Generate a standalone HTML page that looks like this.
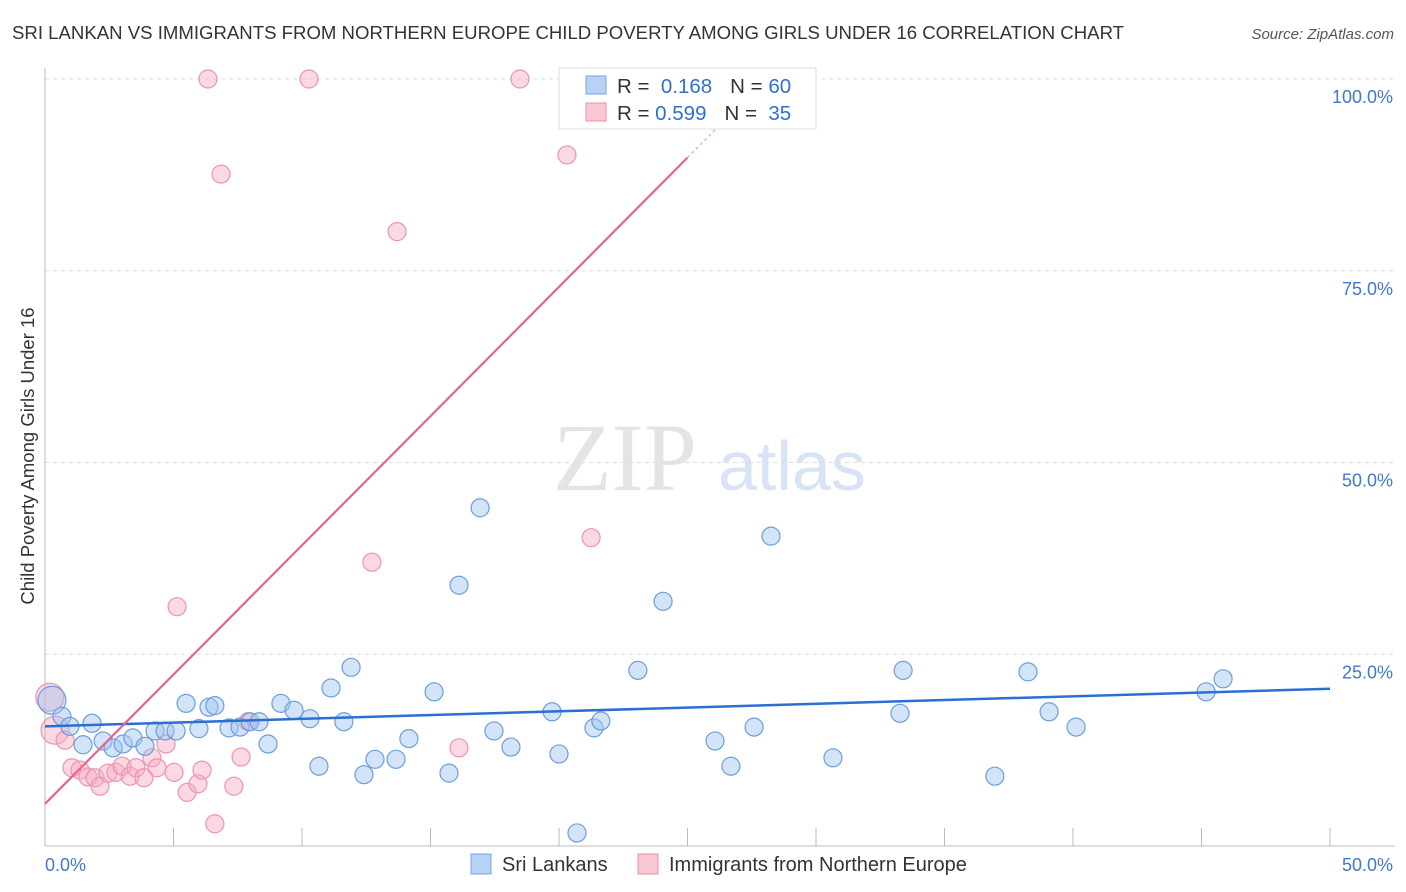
<!DOCTYPE html>
<html><head><meta charset="utf-8"><style>
body{margin:0;background:#fff;font-family:"Liberation Sans",sans-serif;}
#c{position:relative;width:1406px;height:892px;overflow:hidden;}
</style></head><body>
<div id="c">
<svg id="s" width="1406" height="892">
<text x="12" y="39" font-size="18.6" fill="#333">SRI LANKAN VS IMMIGRANTS FROM NORTHERN EUROPE CHILD POVERTY AMONG GIRLS UNDER 16 CORRELATION CHART</text>
<text x="1394" y="39" font-size="15" fill="#555" font-style="italic" text-anchor="end">Source: ZipAtlas.com</text>
<text x="34" y="456" font-size="18.5" fill="#333" text-anchor="middle" transform="rotate(-90 34 456)">Child Poverty Among Girls Under 16</text>
<g>
<text x="553" y="490" font-size="96" font-family="Liberation Serif,serif" fill="#e4e4e4">ZIP</text>
<text x="718" y="490" font-size="70" fill="#d6e4f5">atlas</text>
</g>
<g id="grid"></g><g id="pts"></g><g id="lines"></g>
<g>
<rect x="559" y="68" width="257" height="61" fill="#fff" stroke="#ddd"/>
<rect x="586" y="76" width="20" height="18" fill="#b7d2f5" stroke="#7aa6dd"/>
<rect x="586" y="103" width="20" height="18" fill="#f9c6d3" stroke="#eb90aa"/>
<text x="617" y="93" font-size="20.5" fill="#333">R = <tspan fill="#2f6fcf">&#160;0.168</tspan><tspan dx="18">N = </tspan><tspan fill="#2f6fcf">60</tspan></text>
<text x="617" y="120" font-size="20.5" fill="#333">R = <tspan fill="#2f6fcf">0.599</tspan><tspan dx="18">N = </tspan><tspan fill="#2f6fcf">&#160;35</tspan></text>
</g>
<g>
<rect x="471" y="854" width="20" height="20" fill="#b7d2f5" stroke="#7aa6dd"/>
<text x="502" y="871" font-size="20" fill="#333">Sri Lankans</text>
<rect x="638" y="854" width="20" height="20" fill="#f9c6d3" stroke="#eb90aa"/>
<text x="669" y="871" font-size="20" fill="#333">Immigrants from Northern Europe</text>
</g>
</svg>
</div>
<script>
const xTicks=[0,5,10,15,20,25,30,35,40,45,50];
const yTicks=[25,50,75,100];
const yTickLabels=["25.0%","50.0%","75.0%","100.0%"];
const blueX=[0.27,0.66,0.97,1.83,1.48,2.26,2.65,3.04,3.42,3.89,4.28,4.67,5.10,5.49,5.99,6.38,6.61,7.16,7.59,7.98,8.33,8.68,9.18,9.69,10.31,10.66,11.13,11.63,11.91,12.41,12.84,13.66,14.16,15.14,15.72,16.11,16.93,17.47,18.13,19.73,20.0,20.7,21.36,21.63,23.07,24.05,26.07,26.69,27.59,28.25,30.66,33.27,33.39,36.96,38.25,39.07,40.12,45.18,45.84];
const blueY=[19.0,16.9,15.6,16.0,13.2,13.7,12.8,13.3,14.1,13.0,15.0,15.0,15.0,18.6,15.3,18.1,18.3,15.4,15.5,16.2,16.2,13.3,18.6,17.7,16.6,10.4,20.6,16.2,23.3,9.3,11.3,11.3,14.0,20.1,9.5,34.0,44.1,15.0,12.9,17.5,12.0,1.7,15.4,16.3,22.9,31.9,13.7,10.4,15.5,40.4,11.5,17.3,22.9,9.1,22.7,17.5,15.5,20.1,21.8];
const pinkX=[0.19,0.39,0.78,1.05,1.36,1.67,1.95,2.14,2.45,2.76,3.0,3.31,3.54,3.85,4.16,4.36,4.71,5.02,5.14,5.53,5.95,6.11,6.34,6.61,6.85,7.35,7.63,7.90,10.27,12.72,13.70,16.11,18.48,20.31,21.25];
const pinkY=[19.4,15.1,13.8,10.2,9.9,9.0,8.9,7.8,9.5,9.6,10.4,9.1,10.2,8.9,11.5,10.2,13.3,9.6,31.2,7.0,8.1,9.9,100,2.9,87.6,7.8,11.6,16.2,100,37.0,80.1,12.8,100,90.1,40.2];
const blueTrend=[15.6,20.5];
const pinkTrend=[5.5,3.37];
const NS='http://www.w3.org/2000/svg';
const X=v=>45+v*25.7, Y=v=>846-v*7.67;
function mk(t,a,p){const e=document.createElementNS(NS,t);for(const k in a)e.setAttribute(k,a[k]);p.appendChild(e);return e;}
const g=document.getElementById('grid');
yTicks.forEach((t,i)=>{const l=mk('line',{x1:45,x2:1395,y1:Y(t),y2:Y(t),stroke:'#ddd','stroke-dasharray':'4,4'},g);


const tx=mk('text',{x:1393,y:Y(t)+24,'font-size':18,fill:'#3f78d0','text-anchor':'end'},g);tx.textContent=yTickLabels[i];

});
let ax=mk('line',{x1:45,x2:45,y1:68,y2:846,stroke:'#bbb'},g);


ax=mk('line',{x1:45,x2:1395,y1:846,y2:846,stroke:'#bbb'},g);


xTicks.forEach(t=>{const l=mk('line',{x1:X(t),x2:X(t),y1:828,y2:846,stroke:'#bbb'},g);

});
[[0,'0.0%','start',45],[50,'50.0%','end',1393]].forEach(a=>{const tx=mk('text',{x:a[3],y:871,'font-size':18,fill:'#3f78d0','text-anchor':a[2]},g);tx.textContent=a[1];

});
const P=document.getElementById('pts');
pinkX.forEach((x,i)=>{const c=mk('circle',{cx:X(x),cy:Y(pinkY[i]),r:i<2?14:9,fill:'rgba(246,170,192,0.45)',stroke:'#ec93ad','stroke-width':1.2},P);

});
blueX.forEach((x,i)=>{const c=mk('circle',{cx:X(x),cy:Y(blueY[i]),r:i<1?14:9,fill:'rgba(160,195,240,0.45)',stroke:'#6a9edc','stroke-width':1.2},P);

});
const L=document.getElementById('lines');
let tl=mk('line',{x1:X(0),y1:Y(blueTrend[0]),x2:X(50),y2:Y(blueTrend[1]),stroke:'#2a6fd6','stroke-width':2.5},L);


tl=mk('line',{x1:X(0),y1:Y(pinkTrend[0]),x2:X(25),y2:Y(pinkTrend[0]+25*pinkTrend[1]),stroke:'#e8638c','stroke-width':2.2},L);


tl=mk('line',{x1:X(25),y1:Y(pinkTrend[0]+25*pinkTrend[1]),x2:X(26.6),y2:Y(pinkTrend[0]+26.6*pinkTrend[1]),stroke:'#e8a0b5','stroke-width':1.2,'stroke-dasharray':'3,3'},L);


</script>
</body></html>
